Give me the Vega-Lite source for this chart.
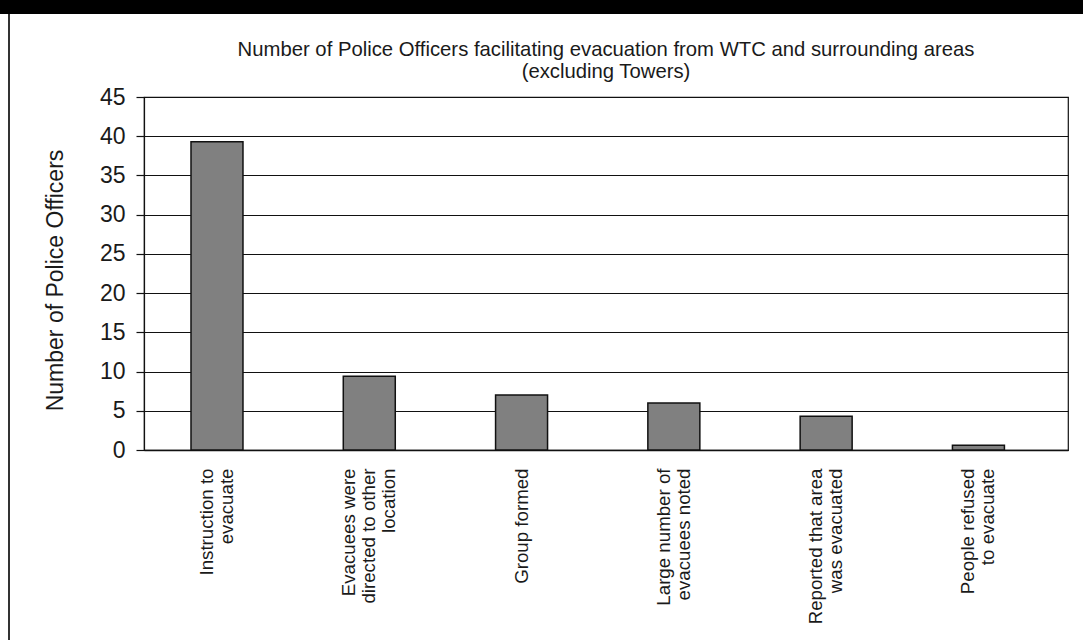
{
  "$schema": "https://vega.github.io/schema/vega-lite/v6.json",
  "padding": 0,
  "background": "white",
  "spacing": 0,
  "config": {
    "view": {"stroke": null},
    "font": "Liberation Sans",
    "concat": {"spacing": 0}
  },
  "datasets": {
    "empty": [],
    "counts": [
      {"category": "Instruction to|evacuate", "officers": 39.3},
      {"category": "Evacuees were|directed to other|location", "officers": 9.4},
      {"category": "Group formed", "officers": 7.0},
      {"category": "Large number of|evacuees noted", "officers": 6.0},
      {"category": "Reported that area|was evacuated", "officers": 4.3},
      {"category": "People refused|to evacuate", "officers": 0.6}
    ]
  },
  "vconcat": [
    {
      "width": 1083,
      "height": 14,
      "view": {"fill": "black", "stroke": null},
      "data": {"name": "empty"},
      "mark": {"type": "point", "opacity": 0}
    },
    {
      "spacing": 0,
      "hconcat": [
        {
          "width": 8,
          "height": 626,
          "data": {"name": "empty"},
          "mark": {"type": "point", "opacity": 0}
        },
        {
          "width": 2,
          "height": 626,
          "view": {"fill": "#333333", "stroke": null},
          "data": {"name": "empty"},
          "mark": {"type": "point", "opacity": 0}
        },
        {
          "width": 33,
          "height": 626,
          "data": {"name": "empty"},
          "mark": {"type": "point", "opacity": 0}
        },
        {
          "spacing": 0,
          "vconcat": [
            {
              "width": 10,
              "height": 25,
              "data": {"name": "empty"},
              "mark": {"type": "point", "opacity": 0}
            },
            {
              "width": 924,
              "height": 353,
              "view": {"stroke": "#111111", "strokeWidth": 1.2},
              "title": {
                "text": ["Number of Police Officers facilitating evacuation from WTC and surrounding areas", "(excluding Towers)"],
                "fontSize": 20.3,
                "fontWeight": "normal",
                "font": "Liberation Sans",
                "color": "#1a1a1a",
                "lineHeight": 21.5,
                "anchor": "middle",
                "offset": 4
              },
              "data": {"name": "counts"},
              "mark": {"type": "bar", "fill": "#808080", "stroke": "#111111", "strokeWidth": 1.5},
              "encoding": {
                "x": {
                  "field": "category",
                  "type": "nominal",
                  "sort": null,
                  "scale": {"paddingInner": 0.6586, "paddingOuter": 0.363, "align": 0.425},
                  "axis": {
                    "title": null,
                    "labelAngle": -90,
                    "labelAlign": "right",
                    "labelBaseline": "middle",
                    "labelFontSize": 18.7,
                    "labelLineHeight": 20,
                    "labelColor": "#1a1a1a",
                    "labelFont": "Liberation Sans",
                    "labelPadding": 18,
                    "labelExpr": "split(datum.label, '|')",
                    "labelOffset": {
                      "condition": [
                        {"test": "length(split(datum.value, '|')) == 3", "value": -20},
                        {"test": "length(split(datum.value, '|')) == 2", "value": -10}
                      ],
                      "value": 0
                    },
                    "labelLimit": 0,
                    "ticks": false,
                    "tickSize": 0,
                    "domainColor": "#111111",
                    "domainWidth": 1.5,
                    "grid": false
                  }
                },
                "y": {
                  "field": "officers",
                  "type": "quantitative",
                  "scale": {"domain": [0, 45], "nice": false, "zero": true},
                  "axis": {
                    "title": "Number of Police Officers",
                    "titleFontSize": 23,
                    "titleFontWeight": "normal",
                    "titleFont": "Liberation Sans",
                    "titleColor": "#1a1a1a",
                    "titlePadding": 32,
                    "titleY": 183,
                    "values": [0, 5, 10, 15, 20, 25, 30, 35, 40, 45],
                    "labelFontSize": 23,
                    "labelColor": "#1a1a1a",
                    "labelFont": "Liberation Sans",
                    "labelPadding": 11,
                    "tickSize": 8,
                    "tickColor": "#111111",
                    "tickWidth": 1.2,
                    "domainColor": "#111111",
                    "domainWidth": 1.2,
                    "grid": true,
                    "gridColor": "#111111",
                    "gridWidth": 1.2,
                    "gridOpacity": 1
                  }
                }
              }
            }
          ]
        }
      ]
    }
  ]
}
